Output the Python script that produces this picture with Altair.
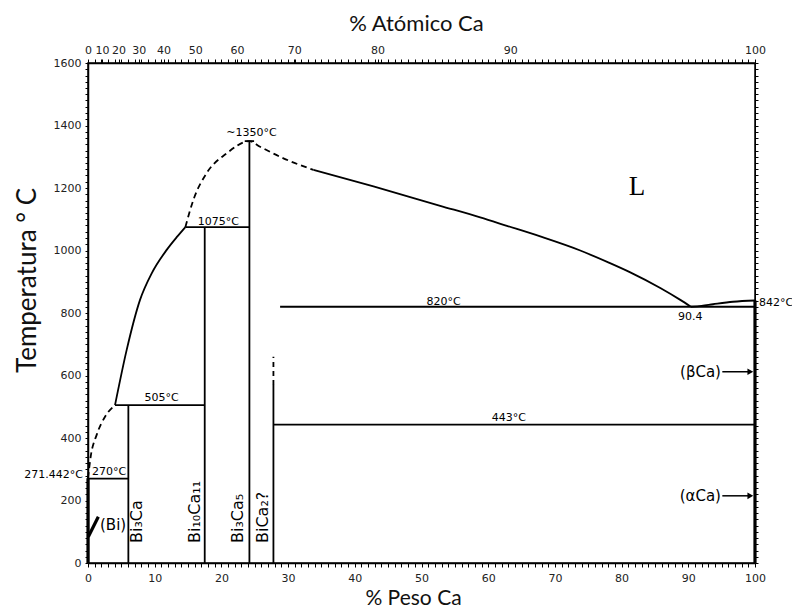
import altair as alt
import pandas as pd

# ---------------- data ----------------
# solid liquidus / solvus curves (wt% Ca, °C)
liq_bi_x = [4.05, 5.8, 7.8, 9.55, 11.8, 13.4, 14.6]
liq_bi_T = [505, 682, 842, 927, 1002, 1045, 1075]
liq_ca_x = [33.8, 42.8, 52.8, 58.8, 62.8, 67.8, 73.8, 78.0, 81.3, 85.8, 88.8, 90.4]
liq_ca_T = [1258, 1205, 1143, 1106, 1079, 1045, 1000, 962, 930, 880, 842, 820]
solvus_x = [90.4, 92.0, 93.7, 96.7, 100]
solvus_T = [820, 823, 828, 836, 840]
# dashed curves
dash_bi_x = [0, 0.4, 1.3, 2.55, 4.05]
dash_bi_T = [271.4, 340, 410, 468, 505]
dash_peak_x = [14.6, 15.8, 17.8, 20.8, 24.2, 25.8, 29.3, 33.8]
dash_peak_T = [1075, 1162, 1248, 1311, 1350, 1332, 1295, 1258]

# straight solid lines: isotherms and compounds
rule_x1 = [0, 4.05, 14.6, 28.8, 27.8, 6.05, 17.5, 24.2, 27.8, 23.5]
rule_x2 = [6.05, 17.5, 24.2, 100, 100, 6.05, 17.5, 24.2, 27.8, 24.9]
rule_T1 = [270, 505, 1075, 820, 443, 0, 0, 0, 0, 1350]
rule_T2 = [270, 505, 1075, 820, 443, 505, 1075, 1350, 570, 1350]
# thick lines: (Bi), (Ca), leader of (Bi)
thick_x1 = [0, 100, 0.05]
thick_x2 = [0, 100, 1.55]
thick_T1 = [0, 0, 84]
thick_T2 = [271.4, 840, 148]
# dashed straight line (BiCa2?)
dline_x1 = [27.8]
dline_x2 = [27.8]
dline_T1 = [570]
dline_T2 = [660]
# arrows for (βCa), (αCa)
arrow_x1 = [95.1, 95.1]
arrow_x2 = [99.3, 99.3]
arrow_T = [612, 215]

# labels
c_text = ["270°C", "505°C", "1075°C", "~1350°C", "820°C", "443°C", "90.4"]
c_x = [3.15, 11.05, 19.55, 24.5, 53.3, 63.1, 90.3]
c_T = [291, 527, 1092, 1375, 836, 464, 788]
r_text = ["(βCa)", "(αCa)"]
r_x = [94.9, 94.9]
r_T = [612, 215]
l_text = ["(Bi)"]
l_x = [1.8]
l_T = [122]
v_text = ["Bi₃Ca", "Bi₁₀Ca₁₁", "Bi₃Ca₅", "BiCa₂?"]
v_x = [7.3, 16.05, 22.5, 26.3]
v_T = [64, 64, 64, 64]

# axes
wt_ticks = list(range(0, 101))
T_ticks = list(range(0, 1601, 20))
atomic_ticks = [0, 10, 20, 30, 40, 50, 60, 70, 80, 90, 100]
M_CA, M_BI = 40.08, 208.98
top_pos = [a * M_CA / (a * M_CA + (100 - a) * M_BI) * 100 for a in atomic_ticks]
top_minor = [float(w) for w in range(1, 100)]

# ---------------- build tables ----------------
def curve_df(name, xs, ts):
    return pd.DataFrame({"seg": name, "x": xs, "T": ts})

solid_curves = pd.concat([
    curve_df("liq_bi", liq_bi_x, liq_bi_T),
    curve_df("liq_ca", liq_ca_x, liq_ca_T),
    curve_df("solvus", solvus_x, solvus_T),
])
dashed_curves = pd.concat([
    curve_df("d_bi", dash_bi_x, dash_bi_T),
    curve_df("d_peak", dash_peak_x, dash_peak_T),
])
rules = pd.DataFrame({"x": rule_x1, "x2": rule_x2, "T": rule_T1, "T2": rule_T2})
thick = pd.DataFrame({"x": thick_x1, "x2": thick_x2, "T": thick_T1, "T2": thick_T2})
dline = pd.DataFrame({"x": dline_x1, "x2": dline_x2, "T": dline_T1, "T2": dline_T2})
arrows = pd.DataFrame({"x": arrow_x1, "x2": arrow_x2, "T": arrow_T})
c_df = pd.DataFrame({"t": c_text, "x": c_x, "T": c_T})
r_df = pd.DataFrame({"t": r_text, "x": r_x, "T": r_T})
l_df = pd.DataFrame({"t": l_text, "x": l_x, "T": l_T})
v_df = pd.DataFrame({"t": v_text, "x": v_x, "T": v_T})
bi_lab = pd.DataFrame({"t": ["271.442°C"], "x": [0], "T": [282]})
ca_lab = pd.DataFrame({"t": ["842°C"], "x": [100], "T": [833]})
L_lab = pd.DataFrame({"t": ["L"], "x": [82.3], "T": [1203]})

xs = alt.Scale(domain=[0, 100], nice=False, zero=False)
ys = alt.Scale(domain=[0, 1600], nice=False, zero=False)

LBL = dict(labelFont="DejaVu Sans", labelFontSize=11, labelColor="#222",
           domainColor="black", domainWidth=1.5, tickColor="black", grid=False,
           labelOverlap=False, labelFlush=False)

top_list = "[" + ",".join(repr(v) for v in top_pos) + "]"

bottom_axis = alt.Axis(orient="bottom", values=wt_ticks, tickSize=4, labelPadding=5,
                       labelExpr="datum.value % 10 === 0 ? datum.label : ''",
                       title="% Peso Ca", titleFont="Lato", titleFontSize=21,
                       titleFontWeight="normal", titleColor="#111",
                       titleX=325, titleY=35, titleBaseline="middle", **LBL)
left_axis = alt.Axis(orient="left", values=T_ticks, tickSize=3, labelPadding=4, format="d",
                     labelExpr="datum.value % 200 === 0 ? datum.label : ''",
                     title="Temperatura ° C", titleFont="Lato", titleFontSize=26,
                     titleFontWeight="normal", titleColor="#111",
                     titleX=-61, titleY=217, titleBaseline="middle", titleAngle=270, **LBL)
top_axis = alt.Axis(orient="top", values=top_pos + top_minor, tickSize=4, labelPadding=4,
                    labelExpr="indexof(" + top_list + ", datum.value) >= 0 ? "
                              "format(round(100*(datum.value/40.08)/((datum.value/40.08)+((100-datum.value)/208.98))), 'd') : ''",
                    title="% Atómico Ca", titleFont="Lato", titleFontSize=22,
                    titleFontWeight="normal", titleColor="#111",
                    titleX=328, titleY=-40, titleBaseline="middle", **LBL)
right_axis = alt.Axis(orient="right", values=T_ticks, tickSize=3, labels=False,
                      title=None, domainColor="black", tickColor="black", grid=False)

base_solid = alt.Chart(solid_curves).mark_line(
    color="black", strokeWidth=1.8, interpolate="monotone"
).encode(
    x=alt.X("x:Q", scale=xs, axis=bottom_axis),
    y=alt.Y("T:Q", scale=ys, axis=left_axis),
    detail="seg:N",
)
dashed = alt.Chart(dashed_curves).mark_line(
    color="black", strokeWidth=1.8, interpolate="monotone", strokeDash=[6, 4]
).encode(
    x=alt.X("x:Q", scale=xs, axis=None),
    y=alt.Y("T:Q", scale=ys, axis=None),
    detail="seg:N",
)
rule_layer = alt.Chart(rules).mark_rule(color="black", strokeWidth=1.8).encode(
    x=alt.X("x:Q", scale=xs, axis=top_axis), x2="x2:Q",
    y=alt.Y("T:Q", scale=ys, axis=right_axis), y2="T2:Q",
)
thick_layer = alt.Chart(thick).mark_rule(color="black", strokeWidth=3.2).encode(
    x=alt.X("x:Q", scale=xs, axis=None), x2="x2:Q",
    y=alt.Y("T:Q", scale=ys, axis=None), y2="T2:Q",
)
dline_layer = alt.Chart(dline).mark_rule(color="black", strokeWidth=1.8, strokeDash=[5, 4]).encode(
    x=alt.X("x:Q", scale=xs, axis=None), x2="x2:Q",
    y=alt.Y("T:Q", scale=ys, axis=None), y2="T2:Q",
)
arrow_lines = alt.Chart(arrows).mark_rule(color="black", strokeWidth=1.5).encode(
    x=alt.X("x:Q", scale=xs, axis=None), x2="x2:Q",
    y=alt.Y("T:Q", scale=ys, axis=None),
)
arrow_heads = alt.Chart(arrows).mark_point(
    shape="triangle-right", filled=True, color="black", size=45, opacity=1
).encode(
    x=alt.X("x2:Q", scale=xs, axis=None),
    y=alt.Y("T:Q", scale=ys, axis=None),
)

TXT = dict(font="DejaVu Sans", fontSize=11, color="black", baseline="middle")

def text_layer(df, **kw):
    opts = dict(TXT)
    opts.update(kw)
    return alt.Chart(df).mark_text(**opts).encode(
        x=alt.X("x:Q", scale=xs, axis=None),
        y=alt.Y("T:Q", scale=ys, axis=None),
        text="t:N",
    )

t_center = text_layer(c_df, align="center")
t_right = text_layer(r_df, align="right", fontSize=15)
t_left = text_layer(l_df, align="left", fontSize=15)
t_vert = text_layer(v_df, align="left", angle=270, fontSize=16)
t_bi = text_layer(bi_lab, align="right", dx=-5)
t_ca = text_layer(ca_lab, align="left", dx=4)
t_L = text_layer(L_lab, align="center", font="Liberation Serif", fontSize=27)

chart = alt.layer(
    base_solid, dashed, rule_layer, thick_layer, dline_layer,
    arrow_lines, arrow_heads, t_center, t_right, t_left, t_vert, t_bi, t_ca, t_L,
).resolve_axis(
    x="independent", y="independent"
).properties(
    width=667, height=500,
    autosize=alt.AutoSizeParams(type="none"),
    padding={"left": 80, "top": 55, "right": 37, "bottom": 44},
).configure_view(
    stroke="black", strokeWidth=1.5
)

chart.save("out.html", embed_options={"renderer": "svg", "actions": False})
